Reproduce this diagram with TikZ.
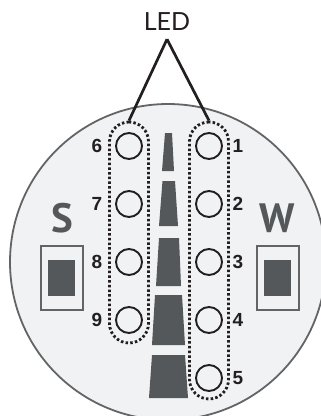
\documentclass[tikz,border=0pt]{standalone}
\usepackage{fontspec}
\usepackage{tikz}
\setmainfont{PT Sans}
\newfontfamily\ledfont{Lato}
\newfontfamily\numfont{Liberation Sans}
\definecolor{panelgrey}{HTML}{F1F2F4}
\definecolor{markgrey}{HTML}{54585A}
\definecolor{edgegrey}{HTML}{636466}
\definecolor{inkblack}{HTML}{231F20}
\tikzset{
    led/.style={
    circle,draw=inkblack,fill=panelgrey,line width=1.9pt,minimum size=26pt,inner sep=0pt
    },
    ledgroup/.style={
    rectangle,rounded corners=19.5pt,draw=inkblack,line width=2.8pt,line cap=butt,
    dash pattern=on 2.5pt off 2.2pt,minimum width=39pt,inner sep=0pt
    },
    number/.style={
    font=\numfont\bfseries\fontsize{19}{19}\selectfont,text=inkblack,inner sep=0pt
    },
    switchletter/.style={
    font=\bfseries\fontsize{41}{41}\selectfont,text=markgrey,inner sep=0pt
    },
    switchbox/.style={
    rectangle,draw=edgegrey,line width=1.8pt,minimum width=42pt,minimum height=64pt,inner sep=0pt
    },
    switchknob/.style={
    rectangle,fill=markgrey,minimum width=27pt,minimum height=36pt,inner sep=0pt
    },
    pointer/.style={
    draw=inkblack,line width=2.7pt,line join=miter
    },
    bar/.style={
    fill=markgrey
    },
}
\begin{document}
\begin{tikzpicture}[x=1pt,y=-1pt]
   \useasboundingbox (0,0) rectangle (321,416);
   \clip (0,0) rectangle (321,416);
   \node[circle,draw=edgegrey,fill=panelgrey,line width=1.8pt,minimum size=316pt,inner sep=0pt] (dial) at (168,262) {};

   % level bars
   \fill[bar] (165,133) -- (172,133) -- (174,171) -- (162,171) -- cycle;
   \fill[bar] (162.5,181) -- (175,181) -- (178,226) -- (159,226) -- cycle;
   \fill[bar] (159,238) -- (179,238) -- (181,286) -- (156,286) -- cycle;
   \fill[bar] (155,295) -- (182,295) -- (185,345) -- (152,345) -- cycle;
   \fill[bar] (152,355) -- (185,355) -- (188,398) -- (149,398) -- cycle;

   % leds
   \node[led] (led6) at (129,146) {};
   \node[led] (led7) at (129,204) {};
   \node[led] (led8) at (129,262) {};
   \node[led] (led9) at (129,320) {};
   \node[led] (led1) at (209,146) {};
   \node[led] (led2) at (209,204) {};
   \node[led] (led3) at (209,262) {};
   \node[led] (led4) at (209,320) {};
   \node[led] (led5) at (209,378) {};

   \node[number] (num6) at (97,146) {6};
   \node[number] (num7) at (97,204) {7};
   \node[number] (num8) at (97,262) {8};
   \node[number] (num9) at (97,320) {9};
   \node[number] (num1) at (238,146) {1};
   \node[number] (num2) at (238,204) {2};
   \node[number] (num3) at (238,262) {3};
   \node[number] (num4) at (238,320) {4};
   \node[number] (num5) at (238,378) {5};

   \node[ledgroup,minimum height=221pt] (groupl) at (129,232.5) {};
   \node[ledgroup,minimum height=277pt] (groupr) at (209,260.5) {};

   % switches
   \node[switchletter] (s) at (62,218) {S};
   \node[switchletter] (w) at (277,218) {W};
   \node[switchbox] (boxs) at (62,278) {};
   \node[switchbox] (boxw) at (278,278) {};
   \node[switchknob] (knobs) at (61.5,278) {};
   \node[switchknob] (knobw) at (277.5,278) {};

   \node[font=\ledfont\fontsize{25}{25}\selectfont,text=inkblack,inner xsep=0pt,inner ysep=9pt,text height=18pt,text depth=0pt] (ledlabel) at (167,21) {LED};

   \path[pointer]
    (ledlabel.south) edge (groupl.north)
    (ledlabel.south) edge (groupr.north);
\end{tikzpicture}
\end{document}
